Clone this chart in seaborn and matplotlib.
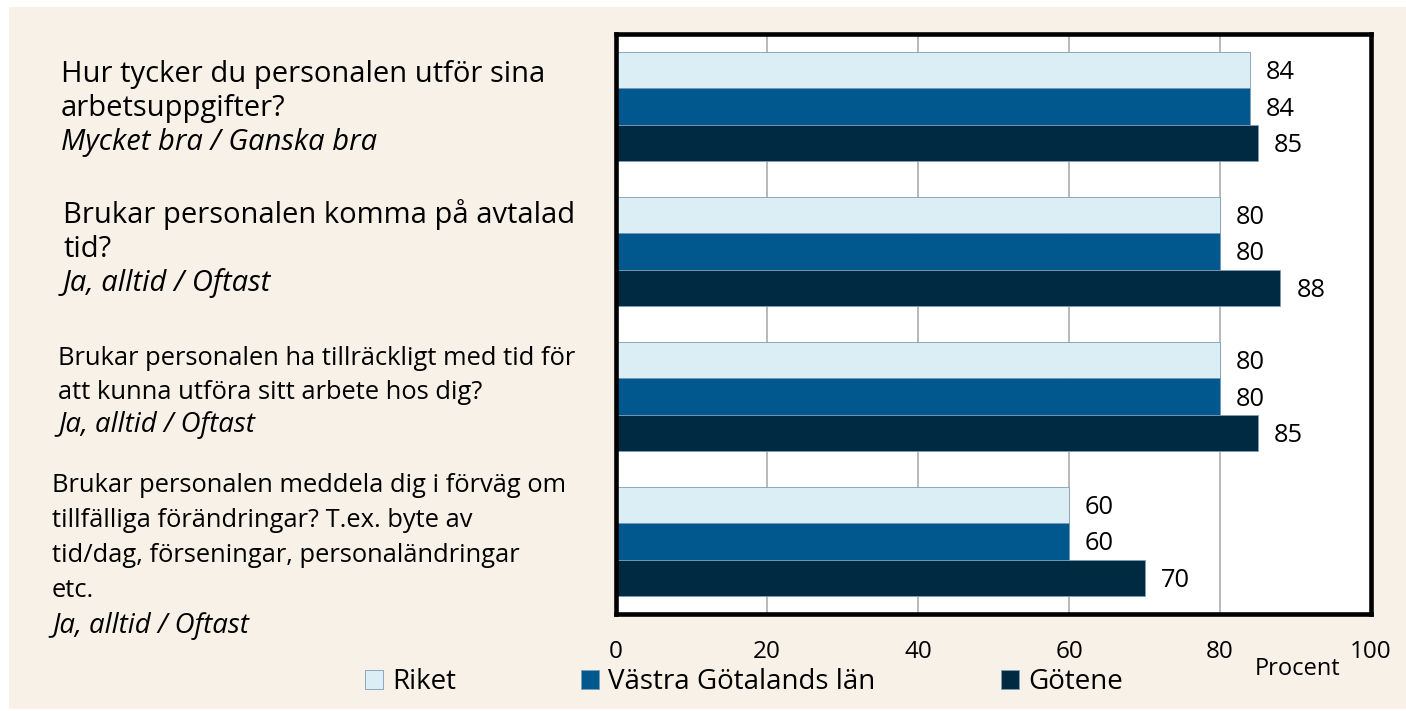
import matplotlib
matplotlib.use("Agg")
import matplotlib.pyplot as plt
import pandas as pd
import seaborn as sns
from matplotlib.patches import Rectangle

# ---------------- data ----------------
questions = ["Q1", "Q2", "Q3", "Q4"]
regions = ["Riket", "Västra Götalands län", "Götene"]
riket = [84, 80, 80, 60]
vastra_gotaland = [84, 80, 80, 60]
gotene = [85, 88, 85, 70]
x_ticks = [0, 20, 40, 60, 80, 100]
x_label = "Procent"

question_text = [
    ["Hur tycker du personalen utför sina", "arbetsuppgifter?"],
    ["Brukar personalen komma på avtalad", "tid?"],
    ["Brukar personalen ha tillräckligt med tid för", "att kunna utföra sitt arbete hos dig?"],
    ["Brukar personalen meddela dig i förväg om", "tillfälliga förändringar? T.ex. byte av",
     "tid/dag, förseningar, personaländringar", "etc."],
]
answer_text = ["Mycket bra / Ganska bra", "Ja, alltid / Oftast",
               "Ja, alltid / Oftast", "Ja, alltid / Oftast"]

colors = ["#dbeef6", "#00588f", "#002a42"]

df = pd.DataFrame({
    "question": questions * 3,
    "region": [r for r in regions for _ in questions],
    "value": riket + vastra_gotaland + gotene,
})

# ---------------- style ----------------
sns.set_theme(style="white")
plt.rcParams["font.family"] = ["Open Sans", "DejaVu Sans"]
plt.rcParams["text.color"] = "black"

W, H = 1406, 711
fig = plt.figure(figsize=(W / 100, H / 100), dpi=100, facecolor="white")
fig.patches.append(Rectangle((9 / W, 2 / H), (W - 9) / W, 702 / H,
                             transform=fig.transFigure, facecolor="#f8f1e8",
                             edgecolor="none", zorder=-10))

left, right, top, bottom = 616, 1371, 34, 614
ax = fig.add_axes([left / W, (H - bottom) / H, (right - left) / W, (bottom - top) / H])
ax.set_facecolor("white")

sns.barplot(data=df, y="question", x="value", hue="region", orient="h",
            order=questions, hue_order=regions, palette=colors, width=0.745,
            legend=False, ax=ax, edgecolor="#7d9db5", linewidth=0.6, saturation=1)

ax.set_xlim(0, 100)
ax.set_ylim(3.5, -0.5)
ax.set_xticks(x_ticks)
ax.set_xticklabels([str(t) for t in x_ticks])
ax.tick_params(axis="x", length=0, pad=19, labelsize=17.5, colors="black")
ax.tick_params(axis="y", left=False, labelleft=False)
ax.set_xlabel("")
ax.set_ylabel("")
ax.xaxis.grid(True, color="#a6a6a6", linewidth=1.1)
ax.yaxis.grid(False)
ax.set_axisbelow(True)
for s in ax.spines.values():
    s.set_visible(True)
    s.set_color("black")
    s.set_linewidth(3.3)

for cont in ax.containers:
    anns = ax.bar_label(cont, fmt="%d", padding=11.5, fontsize=18.3, color="black")
    for a in anns:
        a.xyann = (11.5, -1.8)

# question labels
label_x = [61, 63, 58, 52]
label_base = [[82, 116, 150], [223, 257, 291], [365, 399, 432], [492, 527, 562, 597, 633]]
label_size = [21, 21, 18.4, 18.4]
italic_size = [21, 21, 19.9, 19.9]
for i in range(len(questions)):
    lines = question_text[i] + [answer_text[i]]
    for j, line in enumerate(lines):
        last = j == len(lines) - 1
        fig.text(label_x[i] / W, 1 - label_base[i][j] / H, line, ha="left", va="baseline",
                 fontsize=italic_size[i] if last else label_size[i],
                 style="italic" if last else "normal")

fig.text(1298 / W, 1 - 675 / H, x_label, ha="center", va="baseline", fontsize=17)

fig.legend(handles=list(ax.containers), labels=regions, loc="center left",
           bbox_to_anchor=(365 / W, 1 - 682 / H), ncol=3, frameon=False,
           fontsize=20, borderpad=0, borderaxespad=0, handlelength=0.65,
           handleheight=0.65, handletextpad=0.33, columnspacing=4.5)

fig.savefig("out.png", dpi=100, facecolor="white")
